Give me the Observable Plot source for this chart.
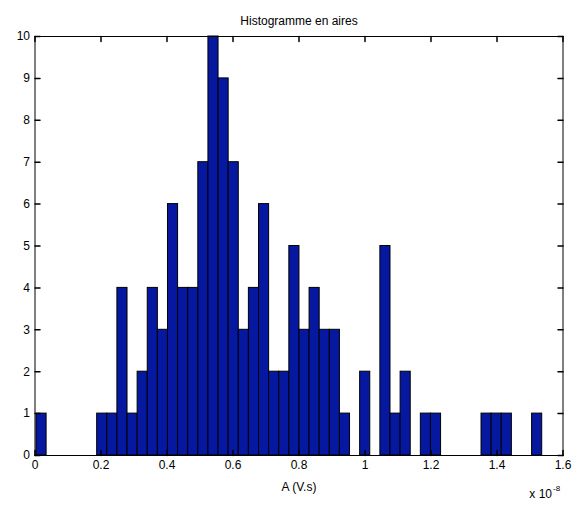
<!DOCTYPE html>
<html>
<head>
<meta charset="utf-8">
<script src="https://cdn.jsdelivr.net/npm/d3@7"></script>
<script src="https://cdn.jsdelivr.net/npm/@observablehq/plot@0.6"></script>
<style>
  html, body { margin: 0; padding: 0; background: #fff; }
  svg { display: block; }
</style>
</head>
<body>
<script>
// Histogram counts (50 bins)
const counts = [1,0,0,0,0,0,1,1,4,1,2,4,3,6,4,4,7,10,9,7,3,4,6,2,2,5,3,4,3,3,1,0,2,0,5,1,2,0,1,1,0,0,0,0,1,1,1,0,0,1];
// Data range covered by the bins (units of 1e-8 V.s)
const binStart = 0.0045;
const binEnd = 1.537;
const xTicks = [0, 0.2, 0.4, 0.6, 0.8, 1, 1.2, 1.4, 1.6];
const yTicks = [0,1,2,3,4,5,6,7,8,9,10];
const title = "Histogramme en aires";
const xLabel = "A (V.s)";
const expBase = "x 10";
const expPow = "-8";

const w = (binEnd - binStart) / counts.length;
const bins = counts.map((c, i) => ({x1: binStart + i * w, x2: binStart + (i + 1) * w, count: c}));

const tickShape = {draw(ctx, l) { ctx.moveTo(0, 0); ctx.lineTo(0, -l); }};

const chart = Plot.plot({
  width: 579,
  height: 505,
  marginLeft: 34.5,
  marginRight: 16.5,
  marginTop: 36,
  marginBottom: 50,
  style: {fontFamily: "'Liberation Sans', Arial, Helvetica, sans-serif", fontSize: "12px", background: "#fff", color: "#000"},
  x: {domain: [0, 1.6]},
  y: {domain: [0, 10]},
  marks: [
    Plot.rectY(bins, {x1: "x1", x2: "x2", y: "count", fill: "#0618a0", stroke: "#000", strokeWidth: 1}),
    Plot.frame({stroke: "#000", strokeWidth: 1}),
    Plot.vector(xTicks, {x: d => d, frameAnchor: "bottom", length: 5, rotate: 0, anchor: "start", shape: tickShape, stroke: "#000"}),
    Plot.vector(xTicks, {x: d => d, frameAnchor: "top", length: 5, rotate: 180, anchor: "start", shape: tickShape, stroke: "#000"}),
    Plot.vector(yTicks, {y: d => d, frameAnchor: "left", length: 5, rotate: 90, anchor: "start", shape: tickShape, stroke: "#000"}),
    Plot.vector(yTicks, {y: d => d, frameAnchor: "right", length: 5, rotate: -90, anchor: "start", shape: tickShape, stroke: "#000"}),
    Plot.axisX({anchor: "bottom", ticks: xTicks, tickSize: 0, tickPadding: 5, tickFormat: d => String(d), fontSize: 12, label: null}),
    Plot.axisY({anchor: "left", ticks: yTicks, tickSize: 0, tickPadding: 5, tickFormat: d => String(d), fontSize: 12, label: null}),
    Plot.text([title], {text: d => d, frameAnchor: "top", dy: -20, fontSize: 12, fill: "#000"}),
    Plot.text([xLabel], {text: d => d, frameAnchor: "bottom", dy: 35, fontSize: 12, fill: "#000"}),
    Plot.text([expBase], {text: d => d, frameAnchor: "bottom-right", dx: -11, dy: 42, textAnchor: "end", fontSize: 12, fill: "#000"}),
    Plot.text([expPow], {text: d => d, frameAnchor: "bottom-right", dx: -10, dy: 35, textAnchor: "start", fontSize: 8, fill: "#000"})
  ]
});
document.body.appendChild(chart);
</script>
</body>
</html>
